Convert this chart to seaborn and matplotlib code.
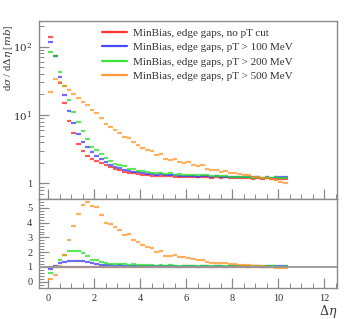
import numpy as np
import pandas as pd
import matplotlib
matplotlib.use("Agg")
import matplotlib.pyplot as plt
import seaborn as sns
from matplotlib.lines import Line2D
from matplotlib.ticker import FixedLocator, FixedFormatter, NullFormatter, MultipleLocator

# ---- data -----------------------------------------------------------------
bin_width = 0.2
eta_centers = np.round(np.arange(0.1, 10.4, bin_width), 2)   # 52 bins, 0 .. 10.4

series = [
    "MinBias, edge gaps, no pT cut",
    "MinBias, edge gaps, pT > 100 MeV",
    "MinBias, edge gaps, pT > 200 MeV",
    "MinBias, edge gaps, pT > 500 MeV",
]
colors = ["#ff1a1a", "#3333ff", "#22dd22", "#ff9020"]

xs_nocut = [140, 72, 29, 15, 8.2, 5.4, 3.8, 3.0, 2.55, 2.3, 2.1, 2.0, 1.85, 1.72,
            1.62, 1.55, 1.48, 1.42, 1.4, 1.36, 1.34, 1.33, 1.3, 1.28, 1.3, 1.27,
            1.28, 1.25, 1.26, 1.23, 1.25, 1.24, 1.22, 1.25, 1.23, 1.21, 1.22, 1.2,
            1.22, 1.19, 1.2, 1.21, 1.18, 1.2, 1.17, 1.19, 1.16, 1.18, 1.15, 1.17,
            1.16, 1.15]
xs_pt100 = [116, 74, 36, 19.6, 11.5, 7.7, 5.3, 4.1, 3.37, 2.88, 2.48, 2.28, 2.07,
            1.89, 1.75, 1.7, 1.58, 1.53, 1.48, 1.46, 1.41, 1.38, 1.38, 1.32, 1.36,
            1.32, 1.32, 1.33, 1.29, 1.28, 1.29, 1.30, 1.24, 1.30, 1.27, 1.23, 1.28,
            1.24, 1.24, 1.24, 1.26, 1.25, 1.23, 1.22, 1.23, 1.24, 1.19, 1.25, 1.21,
            1.25, 1.22, 1.22]
xs_pt200 = [84, 72, 42, 27, 16.8, 11.2, 7.8, 5.85, 4.46, 3.45, 3.05, 2.7, 2.37, 2.1,
            1.94, 1.83, 1.78, 1.63, 1.64, 1.54, 1.5, 1.46, 1.44, 1.4, 1.43, 1.37,
            1.41, 1.34, 1.37, 1.33, 1.33, 1.34, 1.31, 1.31, 1.32, 1.28, 1.28, 1.28,
            1.27, 1.26, 1.26, 1.26, 1.25, 1.26, 1.21, 1.25, 1.21, 1.22, 1.21, 1.22,
            1.19, 1.2]
xs_pt500 = [22, 33.5, 30.5, 27, 23.2, 20.5, 17.5, 15.5, 13.8, 11.8, 10.6, 9.0, 7.4,
            6.7, 6.0, 5.4, 4.7, 4.6, 4.0, 3.7, 3.3, 3.1, 3.0, 2.6, 2.7, 2.25, 2.2,
            2.3, 2.08, 2.02, 2.03, 1.87, 1.8, 1.85, 1.65, 1.55, 1.56, 1.49, 1.51,
            1.4, 1.44, 1.37, 1.32, 1.32, 1.26, 1.26, 1.21, 1.2, 1.15, 1.11, 1.06,
            1.03]

all_xs = [xs_nocut, xs_pt100, xs_pt200, xs_pt500]

frames = []
for name, vals in zip(series, all_xs):
    vals = np.asarray(vals, dtype=float)
    frames.append(pd.DataFrame({"eta": eta_centers, "xs": vals,
                                "ratio": vals / np.asarray(xs_nocut, dtype=float),
                                "series": name}))
df = pd.concat(frames, ignore_index=True)

# ---- style ----------------------------------------------------------------
sns.set_style("ticks")
plt.rcParams["font.family"] = ["Liberation Serif", "DejaVu Serif"]
plt.rcParams["mathtext.fontset"] = "dejavuserif"

spine_col = "#8a8a8a"
text_col = "#333333"

fig = plt.figure(figsize=(3.49, 3.19), dpi=100)
left, right = 0.1126, 0.9656
ax1 = fig.add_axes([left, 0.376, right - left, 0.935 - 0.376])
ax2 = fig.add_axes([left, 0.0972, right - left, 0.376 - 0.0972], sharex=ax1)

pal = dict(zip(series, colors))
marker_size = (bin_width * 22.98 * 72 / 100) ** 2   # bin width expressed in points^2

for ax, col in [(ax1, "xs"), (ax2, "ratio")]:
    if ax is ax2:
        ax.axhline(1.0, color="#999999", lw=1.3, zorder=4)
    sns.scatterplot(data=df, x="eta", y=col, hue="series", hue_order=series,
                    palette=pal, marker="_", s=marker_size, linewidth=1.6,
                    alpha=0.72, legend=False, ax=ax, zorder=3)
    ax.set_xlabel("")
    ax.set_ylabel("")
    for s in ax.spines.values():
        s.set_color(spine_col)
        s.set_linewidth(1.0)
        s.set_visible(True)
    ax.tick_params(which="both", direction="in", top=False, right=False,
                   color=spine_col, labelcolor=text_col, labelsize=7.5)
    ax.tick_params(which="major", length=7, width=0.9)
    ax.tick_params(which="minor", length=3.5, width=0.7)
    ax.tick_params(axis="y", pad=5)
    ax.tick_params(axis="x", pad=4)
    ax.xaxis.set_major_locator(MultipleLocator(2))
    ax.xaxis.set_minor_locator(MultipleLocator(0.5))

ax1.set_xlim(-0.4, 12.55)
ax1.set_yscale("log")
ax1.set_ylim(0.59, 240)
ax1.yaxis.set_major_locator(FixedLocator([1, 10, 100]))
ax1.yaxis.set_major_formatter(FixedFormatter(["1", r"$10^1$", r"$10^2$"]))
ax1.yaxis.set_minor_formatter(NullFormatter())
ax1.tick_params(axis="x", labelbottom=False)

ax2.set_ylim(-0.43, 5.6)
ax2.yaxis.set_major_locator(MultipleLocator(1))
ax2.yaxis.set_minor_locator(MultipleLocator(0.2))

ax1.set_ylabel(r"d$\sigma$ / d$\Delta\eta$ [$mb$]", color=text_col, fontsize=7.5)
ax1.yaxis.set_label_coords(-0.082, 0.79)
ax2.set_xlabel(r"$\Delta\eta$", color=text_col, fontsize=9)
ax2.xaxis.set_label_coords(1.0, -0.17)
ax2.xaxis.label.set_horizontalalignment("right")

handles = [Line2D([0], [0], color=c, lw=1.6, alpha=0.9) for c in colors]
leg = ax1.legend(handles, series, loc="upper left", bbox_to_anchor=(0.185, 1.0),
                 frameon=False, fontsize=8, handlelength=2.3, handletextpad=0.55,
                 labelspacing=0.42, borderaxespad=0.25)
for t in leg.get_texts():
    t.set_color(text_col)

fig.savefig("out.png", dpi=100)
